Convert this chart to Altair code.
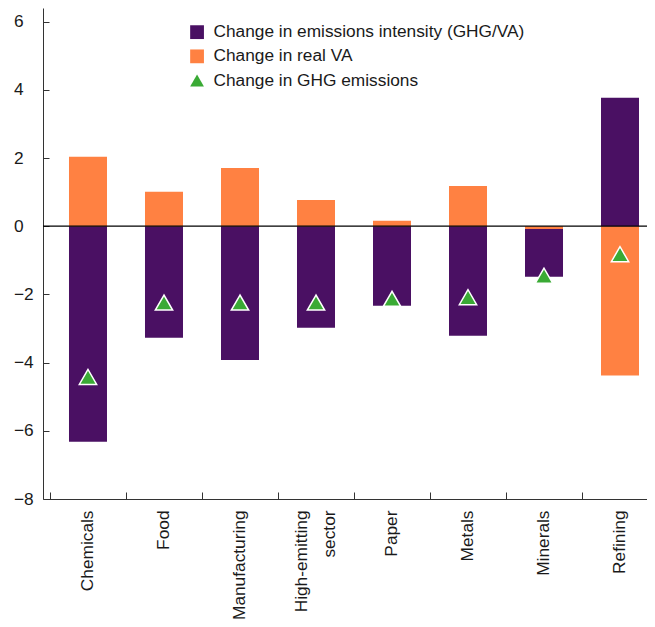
import altair as alt
import pandas as pd

# ---- data ----
sectors = ["Chemicals", "Food", "Manufacturing", "High-emitting sector",
           "Paper", "Metals", "Minerals", "Refining"]
intensity = [-6.32, -3.27, -3.92, -2.98, -2.33, -3.21, -1.40, 3.77]
real_va = [2.04, 1.01, 1.71, 0.77, 0.16, 1.18, -0.08, -4.38]
ghg = [-4.42, -2.24, -2.24, -2.24, -2.13, -2.08, -1.45, -0.82]

series_names = ["Change in emissions intensity (GHG/VA)",
                "Change in real VA",
                "Change in GHG emissions"]
series_colors = ["#4a1063", "#ff8142", "#3aaa35"]
series_shapes = ["square", "square", "triangle-up"]
y_ticks = [-8, -6, -4, -2, 0, 2, 4, 6]

rows = []
for s, a, b in zip(sectors, intensity, real_va):
    rows.append({"sector": s, "series": series_names[0], "value": a, "stack": 1})
    rows.append({"sector": s, "series": series_names[1], "value": b, "stack": 0})
bars_df = pd.DataFrame(rows)
pts_df = pd.DataFrame({"sector": sectors, "series": series_names[2], "value": ghg})

FONT = "Liberation Sans"
FS = 17.3
TXT = "#1a1a1a"
AX = "#333333"

x_scale = alt.Scale(domain=sectors, range=[0, 622], paddingInner=0, paddingOuter=0.092)
y_scale = alt.Scale(domain=[-8, 6.4], nice=False, zero=False)
color_scale = alt.Scale(domain=series_names, range=series_colors)
shape_scale = alt.Scale(domain=series_names, range=series_shapes)

x_main_axis = alt.Axis(orient="bottom", labelAngle=270, labelAlign="right",
                       labelBaseline="middle", labelPadding=11, labelFontSize=FS,
                       labelFont=FONT, labelColor=TXT, labelLineHeight=28,
                       labelExpr="split(datum.label, ' ')", labelOverlap=False,
                       labelOffset={"condition": {"test": "indexof(datum.label, ' ') >= 0",
                                                  "value": -14}, "value": 0},
                       ticks=False, tickSize=0, domain=True, domainColor=AX,
                       domainWidth=1, grid=False)
y_main_axis = alt.Axis(orient="left", values=y_ticks, labelAlign="left",
                       labelBaseline="middle", labelPadding=29.5, labelFontSize=FS,
                       labelFont=FONT, labelColor=TXT, ticks=False, tickSize=0,
                       labelExpr="replace(datum.label, '-', '\u2212')",
                       domain=True, domainColor=AX, domainWidth=1, grid=False)
x_tick_axis = alt.Axis(orient="bottom", offset=-7, tickSize=7, ticks=True,
                       labels=False, domain=False, grid=False, tickBand="extent",
                       tickColor=AX, tickWidth=1)
y_tick_axis = alt.Axis(orient="left", offset=-6, values=y_ticks, tickSize=6,
                       ticks=True, labels=False, domain=False, grid=False,
                       tickColor=AX, tickWidth=1)

bars = alt.Chart(bars_df).mark_bar(width={"band": 0.5}).encode(
    x=alt.X("sector:N", scale=x_scale, axis=x_main_axis, title=None),
    y=alt.Y("value:Q", scale=y_scale, axis=y_main_axis, title=None, stack=True),
    color=alt.Color("series:N", scale=color_scale, title=None),
    order=alt.Order("stack:Q"),
)

zero = alt.Chart(pd.DataFrame({"z": [0]})).mark_rule(color="black", strokeWidth=1.2).encode(
    y=alt.YDatum(0, axis=None, scale=y_scale)
)

points = alt.Chart(pts_df).mark_point(filled=True, size=300, stroke="white",
                                      strokeWidth=1.5, opacity=1).encode(
    x=alt.X("sector:N", scale=x_scale, axis=x_tick_axis, title=None),
    y=alt.Y("value:Q", scale=y_scale, axis=y_tick_axis, title=None),
    color=alt.Color("series:N", scale=color_scale, title=None),
    shape=alt.Shape("series:N", scale=shape_scale, title=None),
)

chart = alt.layer(bars, zero, points).resolve_axis(
    x="independent", y="independent"
).properties(
    width=604, height=491,
    autosize=alt.AutoSizeParams(type="none"),
    padding={"left": 35, "top": 0, "right": 0, "bottom": 120},
).configure(font=FONT).configure_view(strokeWidth=0).configure_legend(
    orient="none", legendX=145.4, legendY=15.5, padding=0,
    labelFont=FONT, labelFontSize=FS, labelColor=TXT, labelOffset=7.8,
    symbolSize=190, rowPadding=6.2, symbolStrokeWidth=0, labelLimit=600,
)

chart.save("out.html", embed_options={"renderer": "svg", "actions": False})
